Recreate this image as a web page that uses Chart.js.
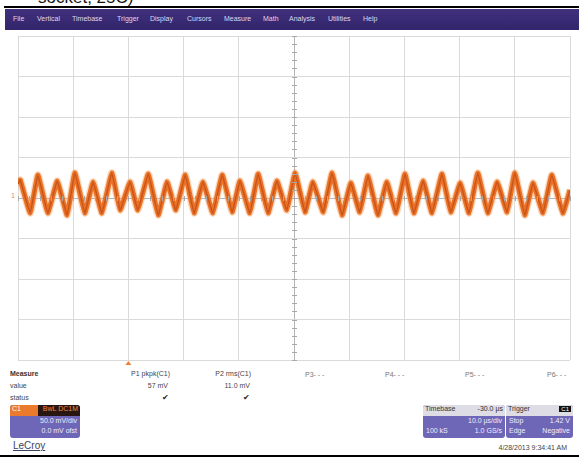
<!DOCTYPE html>
<html lang="en">
<head>
<meta charset="UTF-8">
<title>Scope capture - C1 ripple</title>
<script src="https://cdn.jsdelivr.net/npm/chart.js@4"></script>
<style>
  body { margin:0; width:579px; height:460px; background:#fff; position:relative; overflow:hidden;
         font-family:"Liberation Sans", Arial, sans-serif; }
  .abs { position:absolute; white-space:nowrap; }
  #caption { left:38px; top:-12px; font-size:17px; color:#111; }
  #ruleTop { left:4px; right:0; top:6px; height:2px; background:#000; }
  #menu { left:5px; right:0; top:9px; height:21px; background:linear-gradient(#40307e,#32256a); }
  #menu span { position:absolute; top:6px; font-size:7px; color:#dcd8f0; }
  #plot { position:absolute; left:0; top:30px; }
  .m { font-size:7px; color:#444; }
  .r { text-align:right; }
  .box { position:absolute; border-radius:3px; overflow:hidden; background:#6e66b6; font-size:7px; color:#f0eefc; }
  .box div { position:absolute; white-space:nowrap; }
  .hdr { left:0; right:0; top:0; height:11px; background:#dedde6; color:#333; }
  #ruleBot { left:0; right:0; top:455px; height:2px; background:#000; }
  #logo { left:13px; top:440px; font-size:10px; color:#3c4260; text-decoration:underline; }
</style>
</head>
<body>
  <div id="caption" class="abs">socket, 25C)</div>
  <div id="ruleTop" class="abs"></div>

  <!-- menu bar -->
  <div id="menu" class="abs">
    <span style="left:8px">File</span>
    <span style="left:32px">Vertical</span>
    <span style="left:67px">Timebase</span>
    <span style="left:112px">Trigger</span>
    <span style="left:145px">Display</span>
    <span style="left:182px">Cursors</span>
    <span style="left:219px">Measure</span>
    <span style="left:258px">Math</span>
    <span style="left:284px">Analysis</span>
    <span style="left:323px">Utilities</span>
    <span style="left:358px">Help</span>
  </div>

  <canvas id="plot" width="579" height="336"></canvas>

  <!-- measure table -->
  <div class="abs m" style="left:10px;top:370px;font-weight:bold;color:#333">Measure</div>
  <div class="abs m" style="left:10px;top:382px">value</div>
  <div class="abs m" style="left:10px;top:394px">status</div>

  <div class="abs m r" style="right:409px;top:370px">P1 pkpk(C1)</div>
  <div class="abs m r" style="right:411px;top:382px">57 mV</div>
  <div class="abs m r" style="right:410px;top:393px;font-size:8px;color:#222">&#10004;</div>

  <div class="abs m r" style="right:328px;top:370px">P2 rms(C1)</div>
  <div class="abs m r" style="right:329px;top:382px">11.0 mV</div>
  <div class="abs m r" style="right:329px;top:393px;font-size:8px;color:#222">&#10004;</div>

  <div class="abs m" style="left:305px;top:371px;color:#777">P3- - -</div>
  <div class="abs m" style="left:385px;top:371px;color:#777">P4- - -</div>
  <div class="abs m" style="left:465px;top:371px;color:#777">P5- - -</div>
  <div class="abs m" style="left:547px;top:371px;color:#777">P6- - -</div>

  <!-- channel descriptor -->
  <div class="box" style="left:10px;top:405px;width:70px;height:33px">
    <div style="left:0;top:0;width:28px;height:11px;background:#ec7a2c;color:#fff;padding-left:2px">C1</div>
    <div style="left:28px;top:0;right:0;height:11px;background:#2a1610;color:#f08a40;text-align:right;padding-right:2px">BwL DC1M</div>
    <div style="right:3px;top:12px">50.0 mV/div</div>
    <div style="right:3px;top:22px">0.0 mV ofst</div>
  </div>
  <div id="logo" class="abs">LeCroy</div>

  <!-- timebase / trigger -->
  <div class="box" style="left:423px;top:405px;width:82px;height:33px">
    <div class="hdr"><span style="position:absolute;left:2px">Timebase</span><span style="position:absolute;right:2px">-30.0 µs</span></div>
    <div style="right:3px;top:12px">10.0 µs/div</div>
    <div style="left:3px;top:22px">100 kS</div>
    <div style="right:3px;top:22px">1.0 GS/s</div>
  </div>
  <div class="box" style="left:506px;top:405px;width:67px;height:33px">
    <div class="hdr"><span style="position:absolute;left:2px">Trigger</span><span style="position:absolute;right:2px;top:1px;background:#111;color:#fff;padding:0 2px;font-size:6px">C1</span></div>
    <div style="left:3px;top:12px">Stop</div>
    <div style="right:3px;top:12px">1.42 V</div>
    <div style="left:3px;top:22px">Edge</div>
    <div style="right:3px;top:22px">Negative</div>
  </div>
  <div class="abs m r" style="right:12px;top:444px">4/28/2013 9:34:41 AM</div>
  <div id="ruleBot" class="abs"></div>

<script>
// time axis in µs (10 µs/div, 10 div), C1 in mV (50 mV/div, 8 div)
const timeUs = [0.0, 0.4, 2.2, 3.6, 5.4, 7.1, 8.9, 10.3, 12.1, 13.6, 15.2, 17.0, 18.5, 20.3, 21.7,
  23.6, 25.4, 27.0, 28.6, 30.3, 31.9, 33.5, 35.3, 37.0, 38.8, 40.2, 42.0, 43.5, 45.3, 46.9, 48.7,
  50.2, 52.0, 53.4, 55.3, 56.9, 58.7, 60.3, 61.9, 63.4, 65.2, 66.8, 68.5, 70.1, 71.7, 73.4, 75.0,
  76.8, 78.4, 80.1, 81.7, 83.3, 85.1, 86.8, 88.6, 90.0, 91.8, 93.3, 95.1, 96.7, 98.7, 100.0];
const c1mV = [17.3, 22.2, -18.5, 28.4, -18.5, 21.0, -21.0, 30.9, -18.5, 19.8, -18.5, 30.9, -14.8, 19.8, -14.8,
  29.6, -21.0, 19.8, -14.8, 28.4, -18.5, 19.8, -18.5, 28.4, -17.3, 21.0, -18.5, 29.6, -18.5, 21.0, -14.8,
  30.9, -17.3, 19.8, -17.3, 30.9, -21.0, 18.5, -17.3, 27.2, -21.0, 19.8, -18.5, 29.6, -18.5, 21.0, -18.5,
  29.6, -17.3, 18.5, -18.5, 30.9, -18.5, 19.8, -17.3, 30.9, -21.0, 18.5, -18.5, 28.4, -18.5, 9.9];
const triggerUs = 20;   // trigger position marker (-30 µs from centre)
const xTicks = [0, 10, 20, 30, 40, 50, 60, 70, 80, 90, 100];
const yTicks = [-200, -150, -100, -50, 0, 50, 100, 150, 200];

const pts = timeUs.map((t, i) => ({ x: t, y: c1mV[i] }));

// small graticule ticks on the centre axes, C1 ground marker, trigger arrow
const scopeMarks = {
  id: 'scopeMarks',
  afterDraw(chart) {
    const { ctx, scales: { x, y }, chartArea: a } = chart;
    const cx = x.getPixelForValue(50), cy = y.getPixelForValue(0);
    ctx.save();
    ctx.strokeStyle = '#a9a9a9';
    ctx.lineWidth = 1;
    ctx.beginPath();
    for (let v = -200; v <= 200; v += 10) {
      const py = Math.round(y.getPixelForValue(v)) + 0.5;
      ctx.moveTo(cx - 2, py); ctx.lineTo(cx + 3, py);
    }
    for (let t = 0; t <= 100; t += 2) {
      const px = Math.round(x.getPixelForValue(t)) + 0.5;
      ctx.moveTo(px, cy - 2); ctx.lineTo(px, cy + 3);
    }
    ctx.stroke();
    // C1 ground marker
    ctx.fillStyle = '#e98a4a';
    ctx.font = '7px "Liberation Sans", Arial';
    ctx.textBaseline = 'middle';
    ctx.fillText('1', a.left - 7, cy - 2);
    // trigger arrow below the grid
    const tx = x.getPixelForValue(triggerUs);
    ctx.fillStyle = '#ef7d33';
    ctx.beginPath();
    ctx.moveTo(tx, a.bottom + 1); ctx.lineTo(tx - 3, a.bottom + 5); ctx.lineTo(tx + 3, a.bottom + 5);
    ctx.closePath(); ctx.fill();
    ctx.restore();
  }
};

const gridOpts = (centre, centreColor) => ({
  color: c => c.tick.value === centre ? centreColor : '#dadada',
  lineWidth: 1,
  drawTicks: false
});

// dataset 0 is painted last (on top): dark core, then orange band, then soft halo
new Chart(document.getElementById('plot').getContext('2d'), {
  type: 'line',
  data: {
    datasets: [
      { data: pts, borderColor: 'rgba(175,65,25,0.6)', borderWidth: 1.4, pointRadius: 0, tension: 0.08 },
      { data: pts, borderColor: '#eb7124', borderWidth: 5, pointRadius: 0, tension: 0.08 },
      { data: pts, borderColor: 'rgba(246,165,100,0.45)', borderWidth: 7.5, pointRadius: 0, tension: 0.08 }
    ]
  },
  options: {
    responsive: false,
    animation: false,
    layout: { padding: { left: 18, right: 9, top: 6, bottom: 6 } },
    plugins: { legend: { display: false }, tooltip: { enabled: false } },
    scales: {
      x: {
        type: 'linear', min: 0, max: 100,
        afterBuildTicks: s => { s.ticks = xTicks.map(v => ({ value: v })); },
        ticks: { display: false },
        grid: gridOpts(50, '#b4b4b4'),
        border: { display: false }
      },
      y: {
        type: 'linear', min: -200, max: 200,
        afterBuildTicks: s => { s.ticks = yTicks.map(v => ({ value: v })); },
        ticks: { display: false },
        grid: gridOpts(0, '#a9bccb'),
        border: { display: false }
      }
    }
  },
  plugins: [scopeMarks]
});
</script>
</body>
</html>
